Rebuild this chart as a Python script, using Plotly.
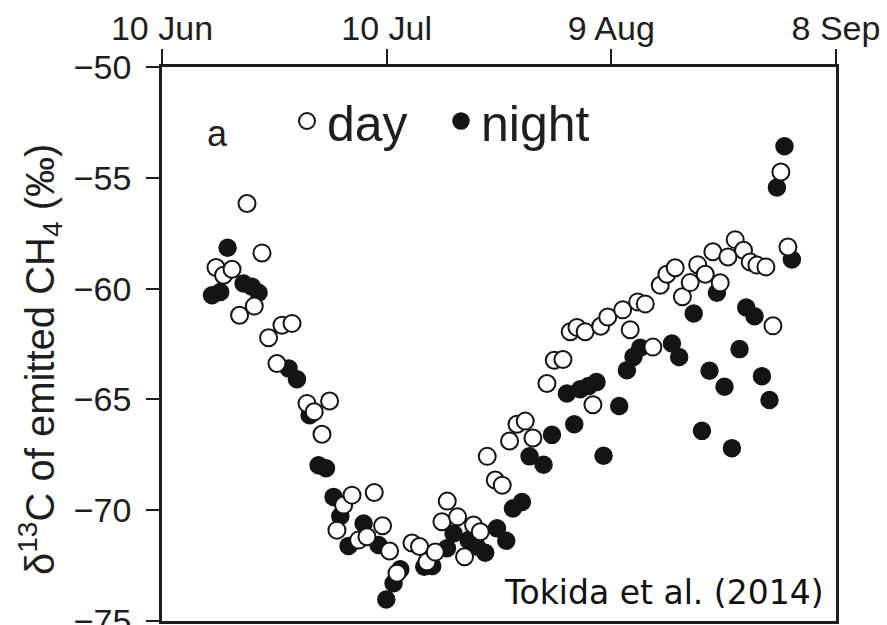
import plotly.graph_objects as go

# x: days after 10 June; y: delta13C of emitted CH4 (permil)
day_x = [7.21, 8.22, 9.35, 10.36, 11.35, 12.32, 13.35, 14.23, 15.35, 16.02,
         17.36, 19.36, 20.33, 21.36, 22.38, 23.36, 24.25, 25.37, 26.25, 27.37,
         28.34, 29.45, 30.39, 31.38, 33.38, 34.39, 35.38, 36.49, 37.38, 38.09,
         39.47, 40.40, 41.60, 42.50, 43.43, 44.50, 45.43, 46.41, 47.40, 48.50,
         49.53, 51.40, 52.38, 53.54, 54.51, 55.41, 56.51, 57.54, 58.58, 59.52,
         61.52, 62.52, 63.52, 64.53, 65.55, 66.53, 67.42, 68.53, 69.49, 70.53,
         71.53, 72.54, 73.56, 74.54, 75.57, 76.54, 77.65, 78.54, 79.44, 80.64,
         81.58, 82.64, 83.58]
day_y = [-59.05, -59.40, -59.13, -61.20, -56.16, -60.79, -58.39, -62.22, -63.38, -61.65,
         -61.57, -65.18, -65.56, -66.57, -65.07, -70.90, -69.77, -69.32, -71.35, -71.20,
         -69.20, -70.70, -71.84, -72.84, -71.48, -71.64, -72.33, -71.89, -70.52, -69.59,
         -70.30, -72.10, -70.67, -70.97, -67.57, -68.64, -68.87, -66.88, -66.12, -65.98,
         -66.74, -64.28, -63.23, -63.20, -61.95, -61.75, -61.95, -65.24, -61.70, -61.28,
         -60.96, -61.86, -60.60, -60.69, -62.64, -59.85, -59.35, -59.06, -60.37, -59.73,
         -58.92, -59.35, -58.34, -59.74, -58.57, -57.79, -58.27, -58.80, -58.94, -59.02,
         -61.68, -54.74, -58.12]

night_x = [6.68, 7.78, 8.76, 10.89, 12.02, 12.90, 16.90, 18.02, 19.71, 20.91,
           21.90, 22.91, 23.81, 24.91, 26.92, 28.92, 29.95, 30.92, 31.82, 35.02,
           36.09, 38.05, 38.93, 40.93, 42.06, 43.16, 44.73, 45.97, 46.86, 48.06,
           49.08, 50.95, 52.07, 54.07, 55.05, 55.85, 56.96, 58.02, 58.96, 61.05,
           62.08, 62.96, 63.86, 68.09, 69.06, 71.00, 72.10, 73.11, 74.10, 75.11,
           76.10, 77.12, 78.01, 79.12, 80.11, 81.12, 82.11, 83.12, 84.11]
night_y = [-60.30, -60.15, -58.16, -59.77, -59.92, -60.19, -63.60, -64.09, -65.71, -67.97,
           -68.11, -69.40, -70.27, -71.61, -70.60, -71.57, -74.03, -73.30, -72.67, -72.55,
           -72.52, -71.72, -71.05, -71.35, -71.65, -71.92, -70.82, -71.38, -69.92, -69.63,
           -67.57, -67.95, -66.60, -64.73, -66.12, -64.54, -64.40, -64.22, -67.54, -65.30,
           -63.68, -63.08, -62.67, -62.48, -63.09, -61.12, -66.42, -63.71, -60.19, -64.43,
           -67.20, -62.73, -60.85, -61.25, -63.95, -65.03, -55.44, -53.58, -58.69]

tick_days = [0, 30, 60, 90]
tick_labels = ["10 Jun", "10 Jul", "9 Aug", "8 Sep"]
y_ticks = [-50, -55, -60, -65, -70, -75]

W, H = 887, 625
ML, MR, MT, MB = 162, 51, 67, 4
PW, PH = W - ML - MR, H - MT - MB

def px_x(p):
    return (p - ML) / PW

def px_y(p):
    return (H - MB - p) / PH

FONT = "Liberation Sans, Arial, Helvetica, sans-serif"
INK = "#1e1e1e"

fig = go.Figure()
fig.add_trace(go.Scatter(
    x=night_x, y=night_y, mode="markers", name="night", legend="legend2",
    marker=dict(size=17, color="#141414", line=dict(color="#141414", width=1.5)),
))
fig.add_trace(go.Scatter(
    x=day_x, y=day_y, mode="markers", name="day", legend="legend",
    marker=dict(size=17, color="white", line=dict(color="#141414", width=2)),
))

fig.update_layout(
    width=W, height=H,
    margin=dict(l=ML, r=MR, t=MT, b=MB, autoexpand=False),
    paper_bgcolor="white", plot_bgcolor="white",
    font=dict(family=FONT, color=INK),
    showlegend=True,
    legend=dict(x=px_x(287), xanchor="left", y=px_y(121), yanchor="middle",
                font=dict(size=50, family=FONT, color=INK), bgcolor="rgba(0,0,0,0)",
                itemsizing="trace"),
    legend2=dict(x=px_x(441), xanchor="left", y=px_y(121), yanchor="middle",
                 font=dict(size=50, family=FONT, color=INK), bgcolor="rgba(0,0,0,0)",
                 itemsizing="trace"),
    xaxis=dict(
        range=[0, 90], side="top", tickmode="array", tickvals=tick_days, ticktext=tick_labels,
        ticks="outside", ticklen=15, tickwidth=2, tickcolor=INK, ticklabelstandoff=-4,
        showline=True, mirror=True, linewidth=2.5, linecolor=INK,
        showgrid=False, zeroline=False, tickfont=dict(size=34, family=FONT, color=INK),
        ticklabeloverflow="allow", automargin=False,
    ),
    yaxis=dict(
        range=[-75, -50], tickmode="array", tickvals=y_ticks,
        ticks="outside", ticklen=13, tickwidth=2, tickcolor=INK, ticklabelstandoff=8,
        showline=True, mirror=True, linewidth=2.5, linecolor=INK,
        showgrid=False, zeroline=False, tickfont=dict(size=34, family=FONT, color=INK),
        ticklabeloverflow="allow", automargin=False,
    ),
    annotations=[
        dict(text="δ<sup>13</sup>C of emitted CH<sub>4</sub> (‰)", textangle=-90,
             xref="paper", yref="paper", x=px_x(40), y=px_y(360),
             xanchor="center", yanchor="middle", showarrow=False,
             font=dict(size=40, family=FONT, color=INK)),
        dict(text="a", xref="paper", yref="paper", x=px_x(217), y=px_y(133),
             xanchor="center", yanchor="middle", showarrow=False,
             font=dict(size=36, family=FONT, color=INK)),
        dict(text="Tokida et al. (2014)", xref="paper", yref="paper",
             x=px_x(826), y=px_y(592), xanchor="right", yanchor="middle", showarrow=False,
             bgcolor="white", font=dict(size=33, family="DejaVu Sans, Verdana, sans-serif", color="#111111")),
    ],
)

fig.write_html("out.html")
